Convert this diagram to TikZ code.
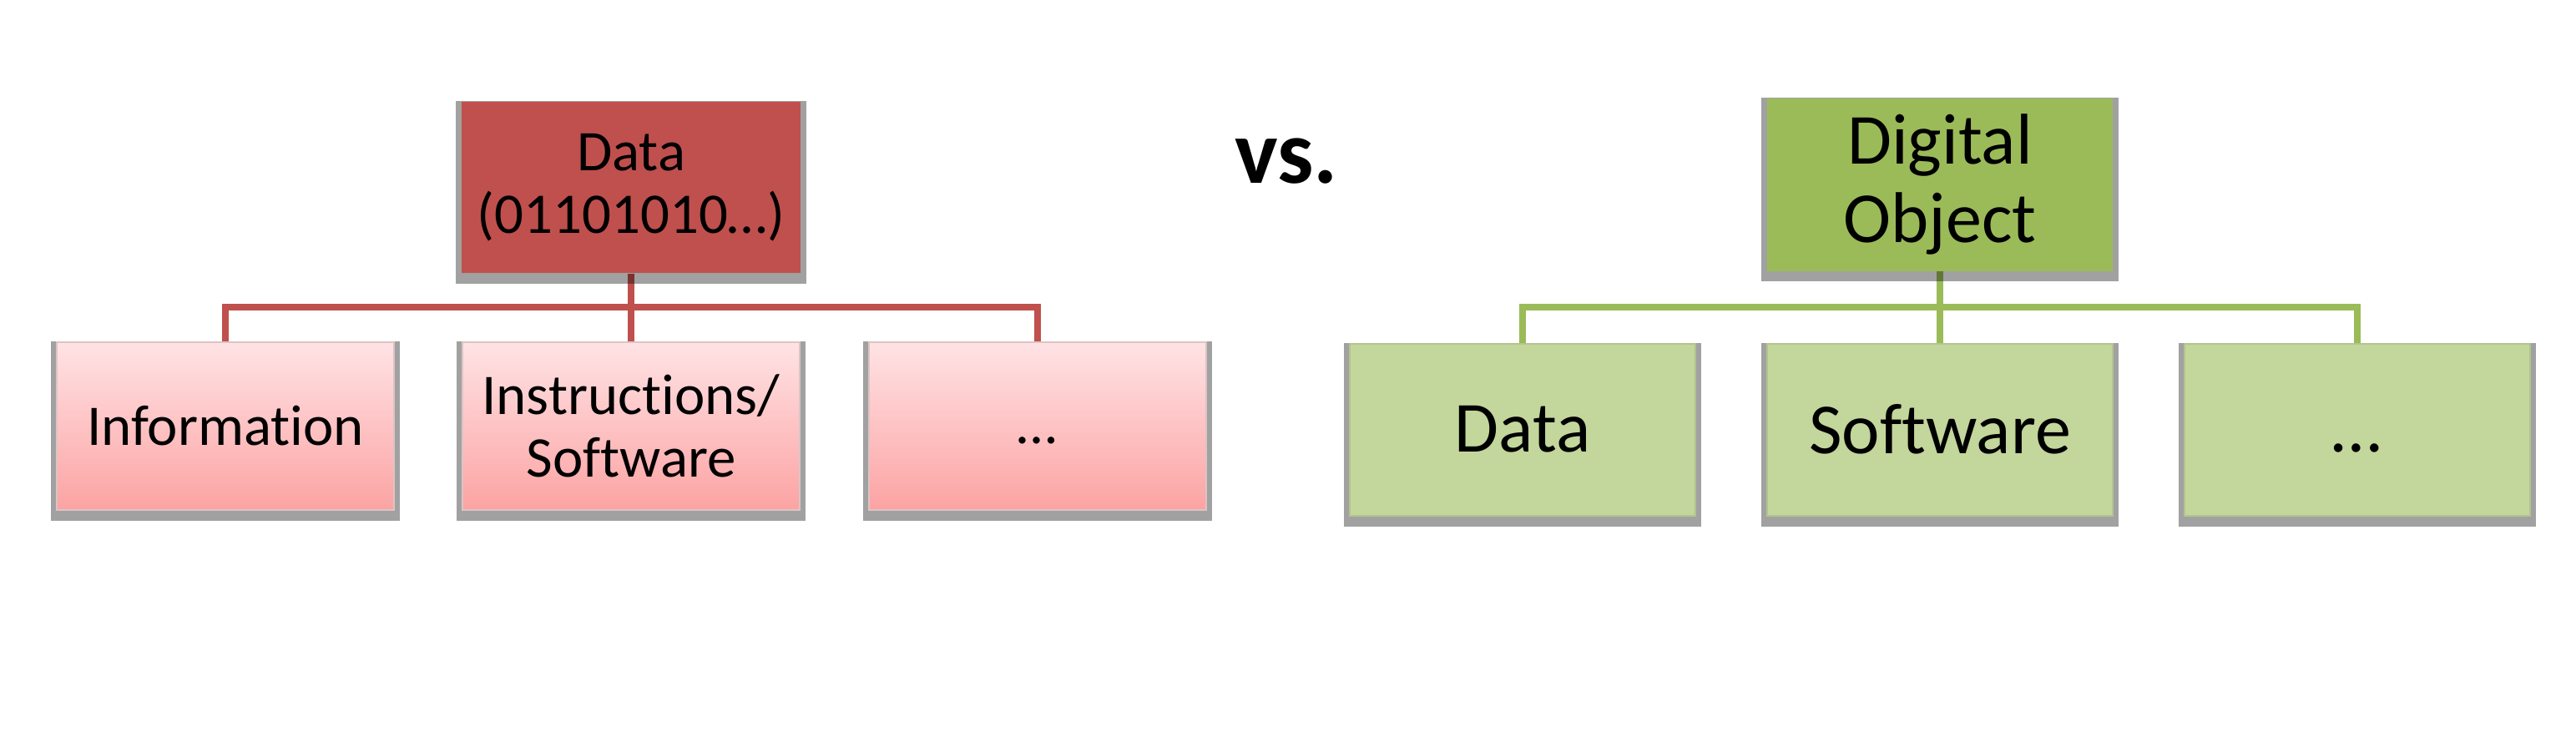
\documentclass[tikz,border=0pt]{standalone}
\usepackage{fontspec}
\setmainfont{Carlito}[Ligatures=NoCommon]
\usetikzlibrary{calc}
\pgfdeclarelayer{background}
\pgfdeclarelayer{shadowlayer}
\pgfsetlayers{background,shadowlayer,main}
\definecolor{datared}{HTML}{C0504D}
\definecolor{pinktop}{HTML}{FFE3E5}
\definecolor{pinkbot}{HTML}{FCA3A3}
\definecolor{pinkedge}{HTML}{DCC4C4}
\definecolor{objgreen}{HTML}{9BBB59}
\definecolor{lightgreen}{HTML}{C3D69B}
\definecolor{greenedge}{HTML}{B3C38E}
\tikzset{
  boxshadow/.style={fill=black,opacity=0.37},
  databox/.style={fill=datared,minimum width=4.06cm,minimum height=2.05cm,align=center,inner sep=0pt,font=\fontsize{19.6}{21.3}\selectfont},
  partbox/.style={top color=pinktop,bottom color=pinkbot,draw=pinkedge,line width=0.02cm,minimum width=4.04cm,minimum height=2.01cm,align=center,inner sep=0pt,font=\fontsize{19.6}{21.3}\selectfont},
  objbox/.style={fill=objgreen,minimum width=4.14cm,minimum height=2.07cm,align=center,inner sep=0pt,font=\fontsize{24.5}{26.7}\selectfont},
  compbox/.style={fill=lightgreen,draw=greenedge,line width=0.02cm,minimum width=4.14cm,minimum height=2.06cm,align=center,inner sep=0pt,font=\fontsize{24.5}{26.7}\selectfont},
  redline/.style={draw=datared,line width=0.08cm},
  greenline/.style={draw=objgreen,line width=0.08cm}
}
\begin{document}
\begin{tikzpicture}
            \useasboundingbox (0,0) rectangle (30.86,8.88);

            \node[databox] (data) at (7.56,6.635) {Data\\(01101010…)};
            \node[partbox] (info) at (2.70,3.78) {Information};
            \node[partbox] (instr) at (7.56,3.78) {Instructions/\\Software};
            \node[partbox] (more) at (12.425,3.78) {\vphantom{I}…};

            \node[anchor=base,font=\fontsize{31}{31}\selectfont\bfseries] (vs) at (15.41,6.69) {vs.};

            \node[objbox] (obj) at (23.24,6.67) {Digital\\Object};
            \node[compbox] (odata) at (18.24,3.735) {Data};
            \node[compbox] (soft) at (23.24,3.735) {Software};
            \node[compbox] (omore) at (28.235,3.735) {\vphantom{D}…};

            \coordinate (dbus) at ($(data.south)!0.5!(instr.north)$);
            \coordinate (obus) at ($(obj.south)!0.5!(soft.north)$);

            \begin{pgfonlayer}{shadowlayer}
            \foreach \n in {data,info,instr,more,obj,odata,soft,omore}
                \fill[boxshadow] ([xshift=-0.06cm]\n.north west) rectangle ([xshift=0.06cm,yshift=-0.12cm]\n.south east);
            \end{pgfonlayer}

            \begin{pgfonlayer}{background}
            \draw[redline] (data.south) -- (dbus) -| (info.north);
            \draw[redline] (data.south) -- (dbus) -| (more.north);
            \draw[redline] (data.south) -- (instr.north);
            \draw[greenline] (obj.south) -- (obus) -| (odata.north);
            \draw[greenline] (obj.south) -- (obus) -| (omore.north);
            \draw[greenline] (obj.south) -- (soft.north);
            \end{pgfonlayer}

        \end{tikzpicture}
\end{document}
